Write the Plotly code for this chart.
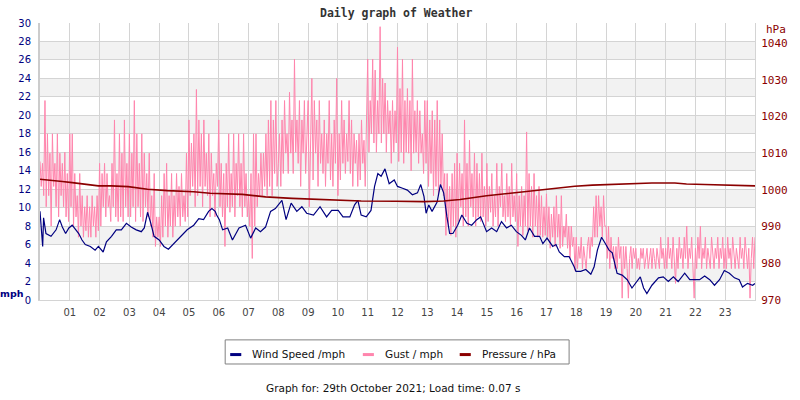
import plotly.graph_objects as go

# readings taken off the daily weather graph, hours since midnight
WIND_HOURS = [
    0.00, 0.05, 0.09, 0.12, 0.20, 0.37, 0.54, 0.66, 0.75, 0.86, 0.97, 1.08, 1.19, 1.30,
    1.41, 1.52, 1.69, 1.85, 1.96, 2.12, 2.23, 2.40, 2.56, 2.73, 2.90, 3.06, 3.23, 3.40,
    3.50, 3.61, 3.72, 3.83, 4.00, 4.16, 4.31, 4.50, 4.72, 4.94, 5.16, 5.33, 5.49, 5.66,
    5.77, 5.88, 5.93, 6.02, 6.13, 6.30, 6.46, 6.68, 6.90, 7.07, 7.24, 7.40, 7.57, 7.74,
    7.90, 8.12, 8.26, 8.43, 8.62, 8.79, 8.95, 9.18, 9.40, 9.62, 9.79, 10.01, 10.17, 10.40,
    10.56, 10.67, 10.78, 10.95, 11.11, 11.23, 11.34, 11.45, 11.58, 11.72, 11.89, 12.00,
    12.17, 12.33, 12.50, 12.67, 12.78, 12.89, 12.96, 13.05, 13.16, 13.33, 13.44, 13.55,
    13.66, 13.75, 13.86, 14.02, 14.16, 14.33, 14.49, 14.66, 14.79, 14.99, 15.16, 15.33,
    15.49, 15.66, 15.82, 15.99, 16.16, 16.29, 16.43, 16.60, 16.77, 16.88, 17.02, 17.21,
    17.32, 17.43, 17.60, 17.76, 17.93, 17.99, 18.15, 18.32, 18.49, 18.60, 18.71, 18.85,
    18.98, 19.10, 19.21, 19.37, 19.54, 19.71, 19.87, 20.04, 20.15, 20.26, 20.37, 20.54,
    20.76, 20.92, 21.09, 21.26, 21.42, 21.64, 21.81, 21.98, 22.14, 22.31, 22.48, 22.64,
    22.81, 22.97, 23.14, 23.31, 23.47, 23.58, 23.75, 23.92, 24.00,
]
WIND_MPH = [
    9.6, 7.0, 5.8, 8.9, 7.2, 6.9, 7.6, 8.7, 7.9, 7.2, 7.8, 8.1, 7.6, 7.2,
    6.5, 6.0, 5.8, 5.4, 5.8, 5.2, 6.3, 6.9, 7.6, 7.6, 8.3, 7.9, 7.6, 7.4,
    7.8, 9.5, 8.3, 6.9, 6.5, 5.8, 5.5, 6.1, 6.9, 7.6, 8.1, 8.8, 8.7, 9.6,
    9.9, 9.6, 9.2, 8.7, 7.6, 7.8, 6.5, 7.8, 8.1, 6.7, 7.8, 7.4, 7.9, 9.6,
    9.9, 10.8, 8.7, 10.5, 9.6, 10.1, 9.4, 9.2, 10.1, 9.0, 9.7, 9.7, 9.0, 9.0,
    10.3, 10.8, 9.2, 9.0, 9.7, 12.3, 13.7, 13.4, 14.2, 12.6, 13.0, 12.3,
    12.1, 11.9, 11.4, 11.6, 12.5, 11.2, 9.4, 10.3, 9.6, 10.6, 12.5, 11.6,
    9.0, 7.2, 7.2, 8.1, 9.2, 8.3, 8.1, 8.7, 9.0, 7.4, 7.8, 7.4,
    8.5, 7.8, 8.1, 7.4, 7.0, 6.5, 7.8, 6.9, 6.9, 6.1, 6.7, 5.8,
    6.0, 5.2, 4.7, 4.7, 3.6, 3.1, 3.1, 3.3, 2.8, 3.6, 5.4, 6.8,
    6.1, 5.4, 5.1, 2.9, 2.7, 2.2, 1.3, 2.0, 2.5, 1.3, 0.7, 1.6,
    2.4, 2.5, 2.0, 2.5, 2.0, 2.9, 2.2, 2.2, 2.2, 2.6, 2.2, 1.6,
    2.2, 3.2, 2.9, 2.4, 2.2, 1.4, 1.8, 1.6, 1.8,
]

# gusts every 2.5 minutes, two rows per hour (00..23), plus the midnight reading
GUST_MPH = [
    15.0, 12.3, 14.8, 11.3, 21.6, 10.1, 18.0, 11.3, 15.9, 8.0, 18.0, 12.3,
    14.8, 10.1, 18.0, 9.0, 15.9, 11.3, 14.8, 10.1, 16.0, 9.0, 13.7, 8.5,
    18.0, 10.1, 18.0, 8.0, 13.7, 9.0, 11.3, 6.8, 13.7, 8.0, 11.3, 6.8,
    10.1, 7.5, 11.3, 6.8, 10.1, 6.8, 11.3, 8.0, 10.1, 6.8, 11.3, 7.5,
    14.8, 8.0, 13.7, 10.1, 14.8, 9.0, 13.7, 10.1, 11.3, 8.5, 14.8, 10.1,
    19.5, 9.0, 13.7, 8.5, 18.0, 9.0, 15.9, 8.5, 19.5, 10.1, 14.8, 9.0,
    18.0, 9.0, 15.9, 10.1, 21.6, 8.5, 18.0, 10.1, 14.8, 9.0, 18.0, 8.5,
    15.9, 10.1, 13.7, 9.0, 15.9, 8.0, 11.3, 6.8, 13.7, 5.8, 9.0, 6.8,
    9.0, 5.8, 11.3, 6.8, 13.7, 8.0, 14.8, 6.8, 11.3, 8.0, 13.7, 6.8,
    11.3, 8.0, 13.7, 9.0, 12.3, 8.0, 13.7, 9.0, 11.3, 8.5, 15.9, 9.0,
    19.5, 11.3, 17.0, 12.3, 18.0, 10.1, 22.8, 11.3, 19.5, 12.3, 18.0, 10.1,
    19.5, 12.3, 15.9, 11.3, 18.0, 9.0, 15.9, 11.3, 13.7, 9.0, 14.8, 12.3,
    19.5, 10.1, 14.8, 9.0, 13.7, 5.8, 14.8, 10.1, 18.0, 9.5, 13.7, 10.1,
    18.0, 9.0, 14.8, 11.3, 18.0, 10.1, 14.8, 9.0, 18.0, 10.1, 13.7, 9.0,
    11.3, 8.0, 13.7, 4.5, 18.0, 8.0, 18.0, 10.1, 13.7, 11.3, 15.9, 11.3,
    15.9, 12.3, 18.0, 11.3, 19.5, 12.3, 21.6, 11.3, 19.5, 13.7, 21.6, 12.3,
    14.8, 18.0, 12.3, 19.5, 13.7, 21.6, 15.9, 18.0, 13.7, 22.5, 15.9, 19.5,
    13.7, 26.1, 16.0, 19.5, 14.8, 21.6, 12.3, 19.5, 15.9, 21.6, 13.7, 18.0,
    21.6, 10.1, 18.0, 24.0, 13.0, 21.6, 15.9, 19.5, 12.3, 21.6, 14.8, 18.0,
    13.7, 19.5, 12.3, 18.0, 14.8, 21.6, 13.0, 18.0, 12.3, 19.5, 14.8, 24.0,
    11.3, 18.0, 13.0, 21.6, 14.8, 19.5, 13.7, 18.0, 15.0, 21.6, 13.7, 19.5,
    12.3, 18.0, 14.8, 17.3, 12.3, 18.0, 13.0, 19.5, 14.8, 17.3, 12.3, 18.0,
    26.1, 16.0, 21.6, 18.0, 26.1, 17.0, 24.9, 16.0, 21.6, 18.0, 29.6, 17.0,
    24.0, 18.0, 23.5, 16.0, 21.6, 18.0, 20.5, 14.8, 21.6, 16.0, 20.5, 17.0,
    27.4, 15.0, 22.9, 16.0, 26.1, 14.8, 21.6, 16.0, 22.9, 15.9, 21.6, 14.0,
    26.1, 15.9, 20.5, 16.0, 21.6, 14.8, 20.5, 15.9, 18.0, 13.7, 21.6, 14.8,
    21.6, 12.3, 19.5, 13.7, 20.5, 11.3, 19.5, 12.3, 21.6, 11.3, 19.5, 12.3,
    18.0, 11.3, 13.7, 7.0, 13.7, 8.0, 12.3, 7.0, 13.7, 8.0, 14.8, 6.8,
    15.9, 8.5, 14.8, 10.1, 13.7, 8.0, 19.5, 9.0, 14.8, 8.0, 17.3, 10.1,
    13.7, 9.0, 15.9, 8.0, 14.8, 9.0, 13.7, 8.5, 15.9, 9.0, 12.3, 8.0,
    14.8, 8.5, 12.3, 9.5, 13.7, 8.0, 11.3, 9.0, 14.8, 8.0, 12.3, 10.1,
    14.8, 9.0, 11.3, 8.5, 13.7, 9.0, 12.3, 8.0, 14.8, 9.0, 11.3, 8.5,
    13.7, 5.8, 11.3, 8.0, 12.3, 7.0, 11.3, 8.0, 18.2, 7.5, 13.7, 8.0,
    12.3, 6.8, 13.7, 8.0, 11.3, 6.8, 12.3, 7.0, 11.3, 6.8, 10.1, 7.0,
    11.5, 6.8, 10.1, 5.6, 9.3, 6.8, 10.1, 5.8, 11.3, 6.8, 9.3, 5.6,
    11.3, 5.8, 8.0, 6.8, 9.3, 5.6, 8.0, 4.5, 8.0, 5.8, 6.8, 3.2,
    6.8, 3.4, 5.8, 4.5, 6.8, 3.4, 5.8, 4.5, 3.4, 5.8, 6.8, 4.5,
    6.8, 5.8, 10.1, 6.8, 11.3, 6.8, 11.3, 8.0, 10.1, 6.8, 11.3, 8.0,
    8.0, 4.5, 8.0, 3.4, 6.8, 4.5, 5.8, 3.4, 5.8, 3.4, 6.8, 4.5,
    5.8, 0.2, 5.8, 3.4, 5.8, 3.4, 0.2, 4.5, 5.8, 3.4, 5.6, 4.5,
    5.6, 3.4, 4.5, 3.3, 5.6, 4.5, 5.6, 3.4, 4.5, 5.6, 3.4, 4.5,
    5.6, 3.4, 5.6, 4.5, 3.4, 5.6, 4.5, 3.4, 6.8, 4.5, 5.6, 3.4,
    5.6, 3.4, 6.8, 4.5, 5.6, 3.4, 6.8, 4.5, 1.8, 5.6, 3.4, 6.8,
    4.5, 5.6, 3.4, 6.8, 4.5, 8.0, 3.4, 5.6, 4.5, 6.8, 3.4, 0.2,
    5.6, 3.4, 6.8, 4.5, 8.0, 3.4, 5.6, 4.5, 6.8, 3.4, 5.6, 4.5,
    3.4, 6.8, 4.5, 3.4, 5.6, 4.5, 6.8, 3.4, 5.6, 4.5, 6.8, 3.4,
    5.6, 3.4, 6.8, 4.5, 5.6, 3.4, 6.8, 4.5, 3.4, 5.6, 4.5, 3.4,
    6.8, 4.5, 5.6, 3.4, 6.8, 4.5, 3.4, 5.6, 0.2, 4.5, 6.8, 3.4,
    6.8,
]
GUST_HOURS = [i * 2.5 / 60 for i in range(len(GUST_MPH))]

PRESSURE_HOURS = [
    0.0, 0.37, 0.75, 1.08, 1.41, 1.96, 2.4, 2.96, 3.61, 4.28, 5.16, 5.71, 6.79, 7.57,
    8.46, 9.23, 10.01, 10.78, 11.95, 12.89, 13.55, 14.1, 14.99, 15.77, 16.54, 17.21,
    17.95, 18.54, 19.1, 19.87, 20.54, 21.31, 21.7, 22.31, 23.08, 24.0,
]
PRESSURE_HPA = [
    1002.9, 1002.7, 1002.3, 1002.0, 1001.6, 1001.1, 1001.1, 1000.9, 1000.2, 999.8, 999.5,
    999.1, 998.8, 998.1, 997.7, 997.5, 997.2, 997.0, 996.9, 996.8, 997.0, 997.4, 998.4,
    999.1, 999.7, 1000.4, 1001.0, 1001.3, 1001.5, 1001.8, 1001.9, 1001.9, 1001.6, 1001.5,
    1001.3, 1001.1,
]

HOUR_TICKS = list(range(1, 24))
HOUR_LABELS = [f"{h:02d}" for h in HOUR_TICKS]
MPH_TICKS = list(range(0, 31, 2))
HPA_TICKS = list(range(970, 1041, 10))

NAVY = "#000080"
PINK = "#ff85ad"
DARKRED = "#8b0000"
GRID = "#d4d4d4"
FONT = "DejaVu Sans, Verdana, sans-serif"
MONO = "DejaVu Sans Mono, monospace"

fig = go.Figure()
fig.add_trace(go.Scatter(x=GUST_HOURS, y=GUST_MPH, mode="lines", name="Gust / mph",
                         line={"color": PINK, "width": 1}))
fig.add_trace(go.Scatter(x=PRESSURE_HOURS, y=PRESSURE_HPA, mode="lines", name="Pressure / hPa",
                         yaxis="y2", line={"color": DARKRED, "width": 1.6}))
fig.add_trace(go.Scatter(x=WIND_HOURS, y=WIND_MPH, mode="lines", name="Wind Speed /mph",
                         line={"color": NAVY, "width": 1.2}))

# alternating grey bands behind the grid
shapes = []
for low in range(2, 30, 4):
    shapes.append(dict(type="rect", xref="paper", yref="y", x0=0, x1=1, y0=low, y1=low + 2,
                       fillcolor="#f2f2f2", line={"width": 0}, layer="below"))

# hand-drawn legend box, like the original
legend_items = [
    ("Wind Speed /mph", NAVY, 0.266, 0.2932),
    ("Gust / mph", PINK, 0.4515, 0.4802),
    ("Pressure / hPa", DARKRED, 0.587, 0.615),
]
shapes.append(dict(type="rect", xref="paper", yref="paper", x0=0.259, x1=0.740, y0=-0.231,
                   y1=-0.144, line={"color": "#808080", "width": 1}, fillcolor="white"))
annotations = []
for label, color, x_dash, x_text in legend_items:
    shapes.append(dict(type="line", xref="paper", yref="paper", x0=x_dash, x1=x_dash + 0.0155,
                       y0=-0.197, y1=-0.197, line={"color": color, "width": 3}))
    annotations.append(dict(text=label, xref="paper", yref="paper", x=x_text, y=-0.194,
                            xanchor="left", yanchor="middle", showarrow=False,
                            font={"family": FONT, "size": 10.5, "color": "#111111"}))

annotations += [
    dict(text="<b>Daily graph of Weather</b>", xref="paper", yref="paper", x=0.4986, y=1.036,
         xanchor="center", yanchor="middle", showarrow=False,
         font={"family": MONO, "size": 11.5, "color": "#333333"}),
    dict(text="<b>mph</b>", xref="paper", yref="paper", x=-0.0388, y=0.0217,
         xanchor="center", yanchor="middle", showarrow=False,
         font={"family": FONT, "size": 9.5, "color": NAVY}),
    dict(text="hPa", xref="paper", yref="paper", x=1.0287, y=0.977,
         xanchor="center", yanchor="middle", showarrow=False,
         font={"family": MONO, "size": 11, "color": DARKRED}),
    dict(text="Graph for: 29th October 2021; Load time: 0.07 s", xref="paper", yref="paper",
         x=0.4938, y=-0.318, xanchor="center", yanchor="middle", showarrow=False,
         font={"family": FONT, "size": 10.5, "color": "#111111"}),
]

fig.update_layout(
    width=800,
    height=400,
    margin={"l": 40, "r": 38, "t": 23, "b": 100},
    paper_bgcolor="white",
    plot_bgcolor="white",
    showlegend=False,
    shapes=shapes,
    annotations=annotations,
    font={"family": FONT, "size": 10},
    xaxis={
        "range": [0, 24],
        "tickvals": HOUR_TICKS,
        "ticktext": HOUR_LABELS,
        "showgrid": True,
        "gridcolor": GRID,
        "gridwidth": 1,
        "zeroline": False,
        "showline": True,
        "linecolor": GRID,
        "linewidth": 1,
        "ticks": "",
        "ticklabelstandoff": 3,
        "tickfont": {"family": FONT, "size": 10, "color": "#444444"},
    },
    yaxis={
        "range": [0, 30],
        "tickvals": MPH_TICKS,
        "showgrid": True,
        "gridcolor": GRID,
        "gridwidth": 1,
        "zeroline": False,
        "showline": True,
        "linecolor": "#cccccc",
        "linewidth": 2,
        "ticks": "",
        "ticklabelstandoff": 5,
        "tickfont": {"family": FONT, "size": 10, "color": NAVY},
    },
    yaxis2={
        "range": [970, 1045.5],
        "tickvals": HPA_TICKS,
        "overlaying": "y",
        "side": "right",
        "showgrid": False,
        "zeroline": False,
        "showline": True,
        "linecolor": GRID,
        "linewidth": 1,
        "ticks": "",
        "ticklabelstandoff": 3,
        "tickfont": {"family": MONO, "size": 11, "color": DARKRED},
    },
)

# drop the page's default 8px body margin so the figure sits at the window's corner
fig.write_html(
    "out.html",
    config={"displayModeBar": False},
    post_script="document.body.style.margin = '0';",
)
